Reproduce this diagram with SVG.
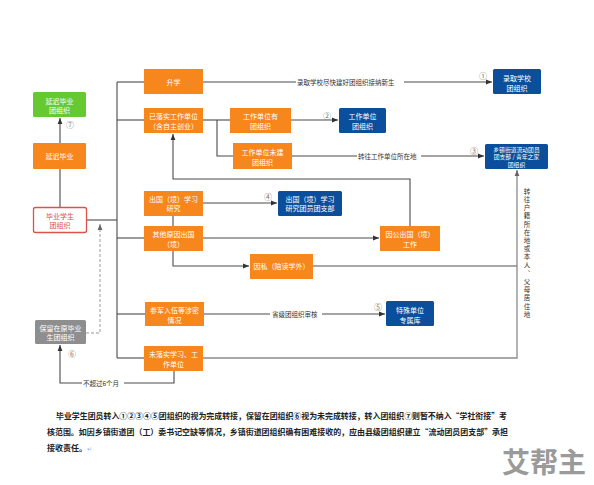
<svg xmlns="http://www.w3.org/2000/svg" width="594" height="485" viewBox="0 0 594 485">
<style>
  .o{fill:#F7861C;}
  .b{fill:#0B4F9C;}
  .t{font-family:"Noto Sans CJK SC","Noto Sans",sans-serif;font-size:7px;fill:#fff;text-anchor:middle;dominant-baseline:central;}
  .s{font-size:5.8px;}
  .ln{fill:none;stroke:#4a4a4a;stroke-width:1.1;}
  .lg{fill:none;stroke:#8a8a8a;stroke-width:1.3;}
  .dash{fill:none;stroke:#9a9a9a;stroke-width:1;stroke-dasharray:3 2;}
  .lab{font-family:"Noto Sans CJK SC","Noto Sans",sans-serif;font-size:6.5px;fill:#333;dominant-baseline:central;}
  .v{font-family:"Noto Sans CJK SC","Noto Sans",sans-serif;font-size:6.5px;fill:#333;writing-mode:vertical-rl;text-orientation:upright;letter-spacing:1.7px;}
  .num{font-family:"Noto Sans CJK SC","DejaVu Sans",sans-serif;font-size:8px;fill:#777;text-anchor:middle;dominant-baseline:central;}
  .p{font-family:"Noto Sans CJK SC","Noto Sans",sans-serif;font-size:8px;font-weight:bold;fill:#222;}
</style>
<defs>
  <marker id="ar" viewBox="0 0 10 10" refX="10" refY="5" markerWidth="6" markerHeight="6" orient="auto" markerUnits="userSpaceOnUse">
    <path d="M0,1 L10,5 L0,9 z" fill="#333"/>
  </marker>
  <marker id="arg" viewBox="0 0 10 10" refX="10" refY="5" markerWidth="6" markerHeight="6" orient="auto" markerUnits="userSpaceOnUse">
    <path d="M0,1 L10,5 L0,9 z" fill="#666"/>
  </marker>
</defs>
<rect width="594" height="485" fill="#fff"/>

<g id="connectors">
  <path class="ln" d="M60,143 V118" marker-end="url(#ar)"/>
  <path class="ln" d="M60,169 V207"/>
  <path class="ln" d="M87,220 H117"/>
  <path class="ln" d="M117,82 V358"/>
  <path class="ln" d="M117,82 H144"/>
  <path class="ln" d="M117,120 H144"/>
  <path class="ln" d="M117,238 H144"/>
  <path class="ln" d="M117,314 H145"/>
  <path class="ln" d="M117,358 H144"/>
  <path class="ln" d="M203,82 H296"/>
  <path class="ln" d="M404,82 H492" marker-end="url(#ar)"/>
  <path class="ln" d="M203,120 H230"/>
  <path class="ln" d="M217,120 V156 H233"/>
  <path class="ln" d="M291,120 H338" marker-end="url(#ar)"/>
  <path class="ln" d="M292,156 H357"/>
  <path class="ln" d="M421,156 H484" marker-end="url(#ar)"/>
  <path class="ln" d="M410,226 V179 H173 V134" marker-end="url(#ar)"/>
  <path class="ln" d="M173,216 V226"/>
  <path class="ln" d="M203,203 H277" marker-end="url(#ar)"/>
  <path class="ln" d="M203,238 H379" marker-end="url(#ar)"/>
  <path class="ln" d="M173,251 V266 H249" marker-end="url(#ar)"/>
  <path class="lg" d="M313,266 H517"/>
  <path class="lg" d="M203,358 H517 V170" marker-end="url(#arg)"/>
  <path class="ln" d="M204,314 H270"/>
  <path class="ln" d="M322,314 H385" marker-end="url(#ar)"/>
  <path class="dash" d="M86,333 H100 V224" marker-end="url(#arg)"/>
  <path class="ln" d="M174,371 V383 H124"/>
  <path class="ln" d="M82,383 H60 V345" marker-end="url(#ar)"/>
  <text class="lab" x="297" y="82">录取学校尽快建好团组织接纳新生</text>
  <text class="lab" x="358" y="156">转往工作单位所在地</text>
  <text class="lab" x="272" y="314">省级团组织审核</text>
  <text class="lab" x="83" y="383">不超过6个月</text>
  <text class="v" x="527" y="188">转往户籍所在地或本人、父母居住地</text>
  <text class="num" x="70" y="124">⑦</text>
  <text class="num" x="483" y="75">①</text>
  <text class="num" x="327" y="115">②</text>
  <text class="num" x="474" y="150">③</text>
  <text class="num" x="268" y="196">④</text>
  <text class="num" x="378" y="306">⑤</text>
  <text class="num" x="72" y="353">⑥</text>
</g>

<g id="n-yanchi-org"><rect x="33" y="92" width="53" height="25" rx="1.5" fill="#67C932"/><text class="t" x="59.5" y="101">延迟毕业</text><text class="t" x="59.5" y="110">团组织</text></g>
<g id="n-yanchi"><rect class="o" x="33" y="143" width="53" height="26" rx="1"/><text class="t" x="59.5" y="156">延迟毕业</text></g>
<g id="n-biye"><rect x="33.5" y="207.5" width="53" height="25" rx="2" fill="#fff" stroke="#E0504A" stroke-width="1.3"/><text class="t" x="60" y="216" style="fill:#E0504A">毕业学生</text><text class="t" x="60" y="225" style="fill:#E0504A">团组织</text></g>
<g id="n-baoliu"><rect x="35" y="320" width="51" height="24" rx="1.5" fill="#8E8E8E"/><text class="t" x="60.5" y="328">保留在原毕业</text><text class="t" x="60.5" y="337">生团组织</text></g>

<g id="n-shengxue"><rect class="o" x="144" y="69" width="59" height="25"/><text class="t" x="173.5" y="82">升学</text></g>
<g id="n-luoshi"><rect class="o" x="144" y="108" width="59" height="25"/><text class="t" x="173.5" y="116">已落实工作单位</text><text class="t" x="173.5" y="126">（含自主创业）</text></g>
<g id="n-you"><rect class="o" x="230" y="108" width="61" height="25"/><text class="t" x="260.5" y="116">工作单位有</text><text class="t" x="260.5" y="126">团组织</text></g>
<g id="n-wei"><rect class="o" x="233" y="143" width="59" height="26"/><text class="t" x="262.5" y="152">工作单位未建</text><text class="t" x="262.5" y="162">团组织</text></g>
<g id="n-chuguo-xx"><rect class="o" x="144" y="191" width="59" height="25"/><text class="t" x="173.5" y="199">出国（境）学习</text><text class="t" x="173.5" y="208">研究</text></g>
<g id="n-qita"><rect class="o" x="144" y="226" width="59" height="25"/><text class="t" x="173.5" y="234">其他原因出国</text><text class="t" x="173.5" y="244">（境）</text></g>
<g id="n-yingong"><rect class="o" x="380" y="226" width="60" height="25"/><text class="t" x="410" y="234">因公出国（境）</text><text class="t" x="410" y="244">工作</text></g>
<g id="n-yinsi"><rect class="o" x="250" y="254" width="63" height="25"/><text class="t" x="281.5" y="266">因私（陪读学外）</text></g>
<g id="n-canjun"><rect class="o" x="145" y="302" width="59" height="24"/><text class="t" x="174.5" y="310">参军入伍等涉密</text><text class="t" x="174.5" y="320">情况</text></g>
<g id="n-weiluoshi"><rect class="o" x="144" y="346" width="59" height="25"/><text class="t" x="173.5" y="354">未落实学习、工</text><text class="t" x="173.5" y="364">作单位</text></g>

<g id="n-luqu"><rect class="b" x="493" y="69" width="48" height="25" rx="1.5"/><text class="t" x="517" y="78">录取学校</text><text class="t" x="517" y="88">团组织</text></g>
<g id="n-danwei"><rect class="b" x="339" y="108" width="47" height="25" rx="1.5"/><text class="t" x="362.5" y="116">工作单位</text><text class="t" x="362.5" y="126">团组织</text></g>
<g id="n-xiangzhen"><rect class="b" x="485" y="144" width="63" height="25" rx="1.5"/><text class="t s" x="516.5" y="149">乡镇街道流动团员</text><text class="t s" x="516.5" y="156.5">团支部 / 青年之家</text><text class="t s" x="516.5" y="164">团组织</text></g>
<g id="n-chuguo-zb"><rect class="b" x="278" y="191" width="64" height="25" rx="1.5"/><text class="t" x="310" y="199">出国（境）学习</text><text class="t" x="310" y="208">研究团员团支部</text></g>
<g id="n-teshu"><rect class="b" x="386" y="301" width="48" height="25" rx="1.5"/><text class="t" x="410" y="310">特殊单位</text><text class="t" x="410" y="320">专属库</text></g>

<g id="note">
  <text class="p" x="56" y="419" textLength="451" lengthAdjust="spacingAndGlyphs">毕业学生团员转入①②③④⑤团组织的视为完成转接，保留在团组织⑥视为未完成转接，转入团组织⑦则暂不纳入“学社衔接”考</text>
  <text class="p" x="47" y="435" textLength="461" lengthAdjust="spacingAndGlyphs">核范围。如因乡镇街道团（工）委书记空缺等情况，乡镇街道团组织确有困难接收的，应由县级团组织建立“流动团员团支部”承担</text>
  <text class="p" x="47" y="451">接收责任。<tspan style="fill:#8ab4e0;font-weight:normal;font-size:6px">↵</tspan></text>
  <text x="502" y="473" style="font-family:'Noto Sans CJK SC',sans-serif;font-size:28px;font-weight:bold;fill:#9a9a9a">艾帮主</text>
</g>
</svg>
